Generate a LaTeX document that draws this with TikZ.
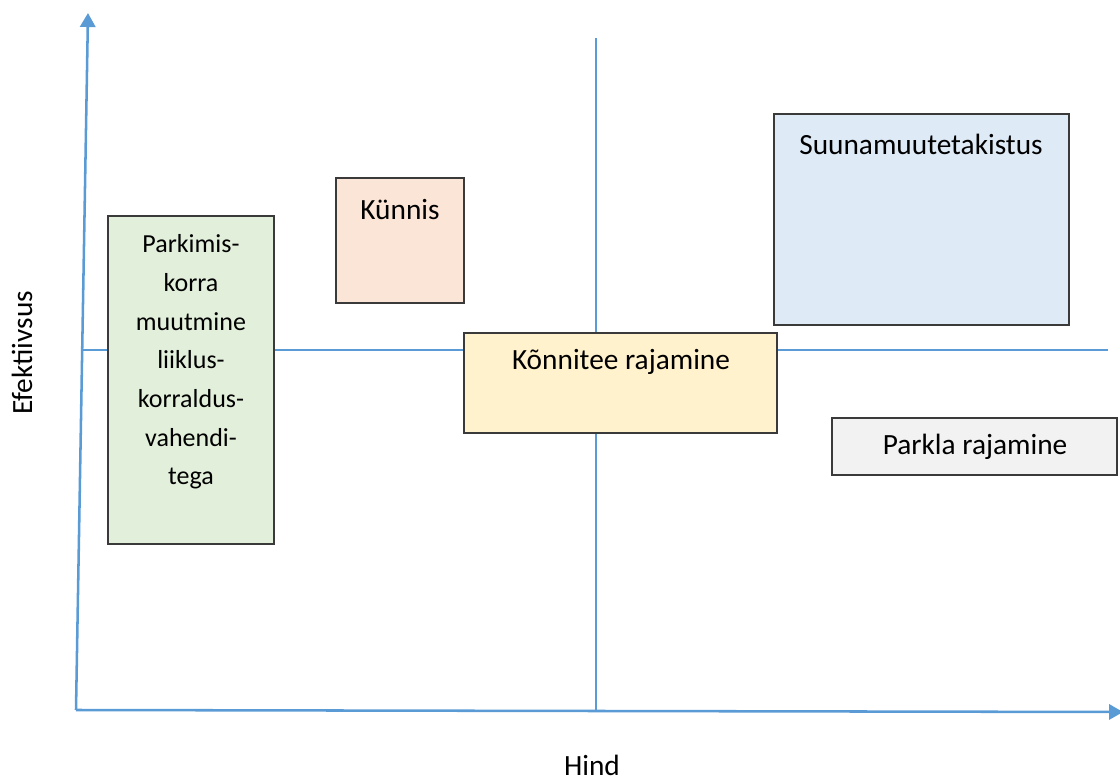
\documentclass[tikz,border=0pt]{standalone}
\usepackage{fontspec}
\setmainfont{Carlito}
\usetikzlibrary{arrows.meta,fit}
\definecolor{axisblue}{HTML}{5B9BD5}
\definecolor{boxborder}{HTML}{3A3A3A}
\definecolor{fgreen}{HTML}{E2EFDA}
\definecolor{fpeach}{HTML}{FBE5D6}
\definecolor{fyellow}{HTML}{FFF2CC}
\definecolor{fblue}{HTML}{DEEBF7}
\definecolor{fgray}{HTML}{F2F2F2}
\tikzset{
  axisline/.style={draw=axisblue, line width=1.9pt},
  axisarrow/.style={axisline, -{Triangle[length=10.5pt,width=11.5pt]}},
  quadline/.style={draw=axisblue, line width=1.7pt},
  box/.style={draw=boxborder, line width=1pt, inner sep=0pt, rectangle},
  txt/.style={inner sep=0pt, align=center, font=\fontsize{22}{26}\selectfont, text=black},
  smalltxt/.style={inner sep=0pt, align=center, font=\fontsize{19.5}{29}\selectfont, text=black},
}
\begin{document}
\begin{tikzpicture}[x=0.75pt,y=-0.75pt]
\useasboundingbox (0,0) rectangle (1120,780);
% axes
\coordinate (o) at (76,710);
\coordinate (ytop) at (88,13);
\coordinate (xend) at (1123,712);
\draw[axisarrow] (o) -- (ytop);
\draw[axisarrow] (o) -- (xend);
% quadrant lines
\coordinate (vtop) at (596,38);
\coordinate (vbot) at (596,710);
\coordinate (hl) at (82,350);
\coordinate (hr) at (1108,350);
\draw[quadline] (vtop) -- (vbot);
\draw[quadline] (hl) -- (hr);
% boxes
\node[box, fill=fgreen, fit={(108,216) (274,544)}] (parkbox) {};
\node[smalltxt] (parktxt) at (191,362) {Parkimis-\\korra\\muutmine\\liiklus-\\korraldus-\\vahendi-\\tega};
\node[box, fill=fpeach, fit={(336,178) (464,303)}] (kunbox) {};
\node[txt] (kuntxt) at (400,210) {Künnis};
\node[box, fill=fyellow, fit={(464,333) (777,433)}] (konbox) {};
\node[txt] (kontxt) at (621,362) {Kõnnitee rajamine};
\node[box, fill=fblue, fit={(774,114) (1069,325)}] (suubox) {};
\node[txt] (suutxt) at (921,144) {Suunamuutetakistus};
\node[box, fill=fgray, fit={(832,418) (1117,475)}] (parklabox) {};
\node[txt] (parklatxt) at (975,447) {Parkla rajamine};
% axis labels
\node[txt, rotate=90] (ylab) at (22,353) {Efektiivsus};
\node[txt, anchor=base] (xlab) at (592,775) {Hind};
\end{tikzpicture}
\end{document}
